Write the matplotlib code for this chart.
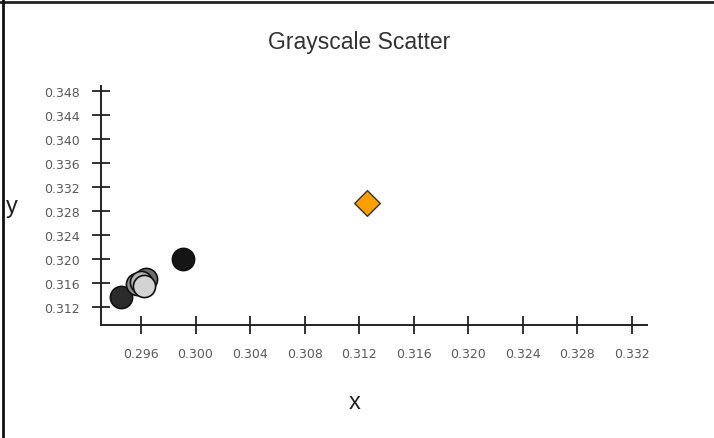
import matplotlib.pyplot as plt
from matplotlib.lines import Line2D

# point data
xs = [0.2945, 0.2964, 0.2957, 0.2960, 0.2962, 0.2991, 0.3126]
ys = [0.3136, 0.3166, 0.3158, 0.3161, 0.3155, 0.3200, 0.3293]
fills = ['#2b2b2b', '#6e6e6e', '#8c8c8c', '#b5b5b5', '#d3d3d3', '#151515', '#ff9e00']
markers = ['o', 'o', 'o', 'o', 'o', 'o', 'D']

xticks = [0.296, 0.300, 0.304, 0.308, 0.312, 0.316, 0.320, 0.324, 0.328, 0.332]
yticks = [0.312, 0.316, 0.320, 0.324, 0.328, 0.332, 0.336, 0.340, 0.344, 0.348]

fig = plt.figure(figsize=(7.14, 4.39), dpi=100)
ax = fig.add_axes([0.1415, 0.2574, 0.7645, 0.5444])

for x, y, c, m in zip(xs, ys, fills, markers):
    if m == 'D':
        ax.scatter(x, y, s=170, marker=m, c=c, edgecolors='#333333', linewidths=1, zorder=3)
    else:
        ax.scatter(x, y, s=255, marker=m, c=c, edgecolors='#111111', linewidths=1.2, zorder=3)

ax.set_xlim(0.29307, 0.3331)
ax.set_ylim(0.30895, 0.34878)
ax.set_xticks(xticks)
ax.set_yticks(yticks)
ax.set_xticklabels(['%.3f' % v for v in xticks])
ax.set_yticklabels(['%.3f' % v for v in yticks])

for s in ['top', 'right']:
    ax.spines[s].set_visible(False)
for s in ['left', 'bottom']:
    ax.spines[s].set_linewidth(1.4)
    ax.spines[s].set_color('#222222')

ax.tick_params(direction='inout', length=13, width=1.3, color='#222222',
               labelsize=9, labelcolor='#5a5a5a', pad=9)
for lab in ax.get_xticklabels() + ax.get_yticklabels():
    lab.set_family('DejaVu Sans')

ax.set_xlabel('x', fontsize=17, family='Liberation Sans', color='#222222', va='center')
ax.xaxis.set_label_coords(0.465, -0.322)
ax.set_ylabel('y', fontsize=17, family='Liberation Sans', color='#222222', rotation=0, va='center')
ax.yaxis.set_label_coords(-0.163, 0.5)

fig.text(359 / 714, 1 - 42 / 439, 'Grayscale Scatter', ha='center', va='center',
         fontsize=16.5, family='Liberation Sans', color='#333333')

# screenshot border on top and left
fig.add_artist(Line2D([0, 1], [1 - 3 / 439, 1 - 3 / 439], color='#222222', lw=2))
fig.add_artist(Line2D([3 / 714, 3 / 714], [0, 1], color='#111111', lw=2))

fig.savefig('out.png', dpi=100)
